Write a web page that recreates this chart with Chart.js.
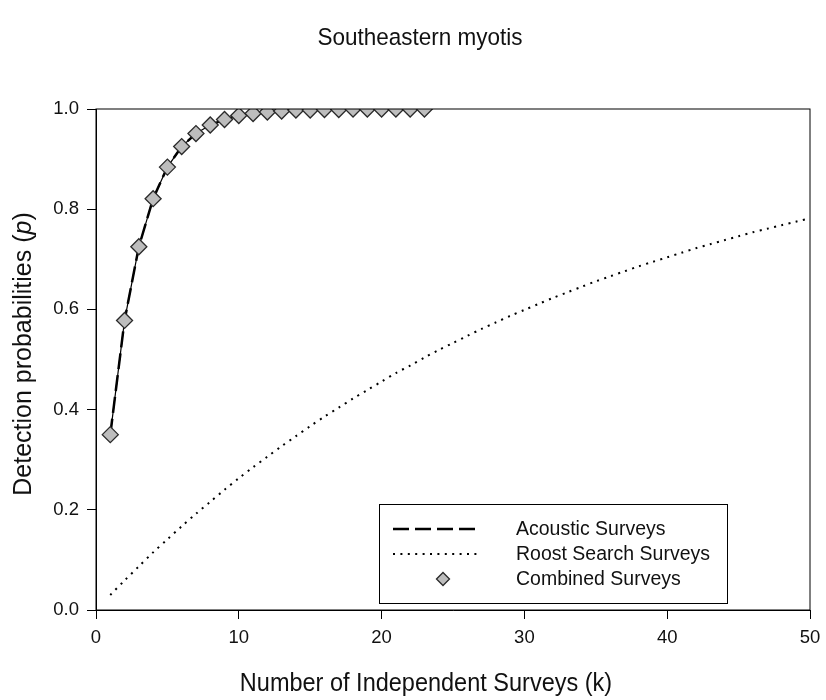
<!DOCTYPE html>
<html>
<head>
<meta charset="utf-8">
<script src="https://cdn.jsdelivr.net/npm/chart.js@4"></script>
<style>
  html, body { margin: 0; padding: 0; background: #fff; }
  #wrap { width: 826px; height: 700px; }
</style>
</head>
<body>
<div id="wrap"><canvas id="chart" width="826" height="700"></canvas></div>
<script>
// --- data ---
const surveyCounts = [1, 2, 3, 4, 5, 6, 7, 8, 9, 10, 11, 12, 13, 14, 15, 16, 17, 18, 19, 20,
  21, 22, 23, 24, 25, 26, 27, 28, 29, 30, 31, 32, 33, 34, 35, 36, 37, 38, 39, 40,
  41, 42, 43, 44, 45, 46, 47, 48, 49, 50];

const acousticP = [0.350, 0.578, 0.725, 0.821, 0.884, 0.925, 0.951, 0.968, 0.979, 0.987,
  0.991, 0.994, 0.996, 0.998, 0.998, 0.999, 0.999, 1.000, 1.000, 1.000, 1.000, 1.000, 1.000];

const roostP = [0.030, 0.059, 0.087, 0.115, 0.141, 0.167, 0.192, 0.216, 0.240, 0.263,
  0.285, 0.306, 0.327, 0.347, 0.367, 0.386, 0.404, 0.422, 0.439, 0.456,
  0.473, 0.488, 0.504, 0.519, 0.533, 0.547, 0.561, 0.574, 0.587, 0.599,
  0.611, 0.623, 0.634, 0.645, 0.656, 0.666, 0.676, 0.686, 0.695, 0.704,
  0.713, 0.722, 0.730, 0.738, 0.746, 0.754, 0.761, 0.768, 0.775, 0.782];

const combinedP = [0.350, 0.578, 0.725, 0.821, 0.884, 0.925, 0.951, 0.968, 0.979, 0.987,
  0.991, 0.994, 0.996, 0.998, 0.998, 0.999, 0.999, 1.000, 1.000, 1.000, 1.000, 1.000, 1.000];

const seriesNames = ["Acoustic Surveys", "Roost Search Surveys", "Combined Surveys"];
const xTicks = [0, 10, 20, 30, 40, 50];
const yTicks = [0.0, 0.2, 0.4, 0.6, 0.8, 1.0];

const FONT = "'Liberation Sans', Arial, Helvetica, sans-serif";
const TEXT = "#111";
const toPoints = vals => vals.map((v, i) => ({ x: surveyCounts[i], y: v }));

// text in the original is a little taller than it is wide
function tallText(ctx, text, x, y, stretch = 1.08) {
  ctx.save();
  ctx.translate(x, y);
  ctx.scale(1, stretch);
  ctx.fillText(text, 0, 0);
  ctx.restore();
}

// --- titles, frame and boxed legend ---
const figureText = {
  id: "figureText",
  afterDraw(chart) {
    const { ctx, chartArea: a } = chart;
    ctx.save();

    // box round the plot
    ctx.strokeStyle = "#000";
    ctx.lineWidth = 1;
    ctx.strokeRect(a.left, a.top, a.right - a.left, a.bottom - a.top);

    ctx.fillStyle = TEXT;
    ctx.textAlign = "center";
    ctx.textBaseline = "middle";
    ctx.font = `22.5px ${FONT}`;
    tallText(ctx, "Southeastern myotis", 420, 38);
    ctx.font = `23.5px ${FONT}`;
    tallText(ctx, "Number of Independent Surveys (k)", 426, 684);

    // y title with italic p
    ctx.translate(24, 354);
    ctx.rotate(-Math.PI / 2);
    const parts = [["Detection probabilities (", ""], ["p", "italic "], [")", ""]];
    const size = 25;
    let total = 0;
    parts.forEach(([t, st]) => { ctx.font = `${st}${size}px ${FONT}`; total += ctx.measureText(t).width; });
    let x = -total / 2;
    ctx.textAlign = "left";
    parts.forEach(([t, st]) => {
      ctx.font = `${st}${size}px ${FONT}`;
      ctx.fillText(t, x, 0);
      x += ctx.measureText(t).width;
    });
    ctx.restore();

    // legend
    ctx.save();
    const box = { l: 379, t: 504, r: 727, b: 603 };
    ctx.fillStyle = "#fff";
    ctx.fillRect(box.l, box.t, box.r - box.l, box.b - box.t);
    ctx.strokeStyle = "#000";
    ctx.lineWidth = 1;
    ctx.strokeRect(box.l + 0.5, box.t + 0.5, box.r - box.l, box.b - box.t);

    const rows = [529, 554, 579];
    const ds = chart.data.datasets;
    ctx.font = `19.5px ${FONT}`;
    ctx.textAlign = "left";
    ctx.textBaseline = "middle";
    rows.forEach((y, i) => {
      const d = ds[i];
      if (i < 2) {
        ctx.beginPath();
        ctx.setLineDash(d.borderDash || []);
        ctx.lineWidth = d.borderWidth;
        ctx.strokeStyle = d.borderColor;
        ctx.moveTo(393, y);
        ctx.lineTo(477, y);
        ctx.stroke();
        ctx.setLineDash([]);
      } else {
        const cx = 443, r = 6.5;
        ctx.fillStyle = d.pointBackgroundColor;
        ctx.strokeStyle = d.pointBorderColor;
        ctx.lineWidth = d.pointBorderWidth;
        ctx.beginPath();
        ctx.moveTo(cx - r, y); ctx.lineTo(cx, y - r); ctx.lineTo(cx + r, y); ctx.lineTo(cx, y + r);
        ctx.closePath();
        ctx.fill();
        ctx.stroke();
      }
      ctx.fillStyle = TEXT;
      tallText(ctx, seriesNames[i], 516, y);
    });
    ctx.restore();
  }
};

new Chart(document.getElementById("chart"), {
  type: "line",
  data: {
    datasets: [
      {
        label: seriesNames[0],
        data: toPoints(acousticP),
        borderColor: "#000",
        borderWidth: 2.5,
        borderDash: [16, 6],
        pointRadius: 0,
        tension: 0,
        order: 2,
      },
      {
        label: seriesNames[1],
        data: toPoints(roostP),
        borderColor: "#000",
        borderWidth: 2,
        borderDash: [2, 5.4],
        pointRadius: 0,
        tension: 0.3,
        order: 3,
      },
      {
        label: seriesNames[2],
        data: toPoints(combinedP),
        borderColor: "#000",
        borderWidth: 1.2,
        showLine: true,
        pointStyle: "rectRot",
        pointRadius: 8,
        pointBackgroundColor: "#bdbdbd",
        pointBorderColor: "#2a2a2a",
        pointBorderWidth: 1.3,
        order: 1,
      },
    ],
  },
  options: {
    responsive: false,
    animation: false,
    layout: { padding: { top: 109, right: 16, left: 0, bottom: 0 } },
    plugins: {
      legend: { display: false },
      title: { display: false },
      tooltip: { enabled: false },
    },
    scales: {
      x: {
        type: "linear",
        min: 0,
        max: 50,
        afterFit: s => { s.height = 90; s.paddingLeft = 0; s.paddingRight = 0; },
        afterBuildTicks: s => { s.ticks = xTicks.map(v => ({ value: v })); },
        grid: { drawOnChartArea: false, drawTicks: true, tickLength: 9, color: "#000" },
        border: { display: true, color: "#000", width: 1 },
        ticks: { color: TEXT, padding: 8, font: { family: FONT, size: 18.5 }, maxRotation: 0 },
      },
      y: {
        min: 0,
        max: 1,
        afterFit: s => { s.width = 96; s.paddingTop = 0; s.paddingBottom = 0; },
        afterBuildTicks: s => { s.ticks = yTicks.map(v => ({ value: v })); },
        grid: { drawOnChartArea: false, drawTicks: true, tickLength: 9, color: "#000" },
        border: { display: true, color: "#000", width: 1 },
        ticks: {
          color: TEXT,
          padding: 8,
          font: { family: FONT, size: 18.5 },
          callback: v => v.toFixed(1),
        },
      },
    },
  },
  plugins: [figureText],
});
</script>
</body>
</html>
